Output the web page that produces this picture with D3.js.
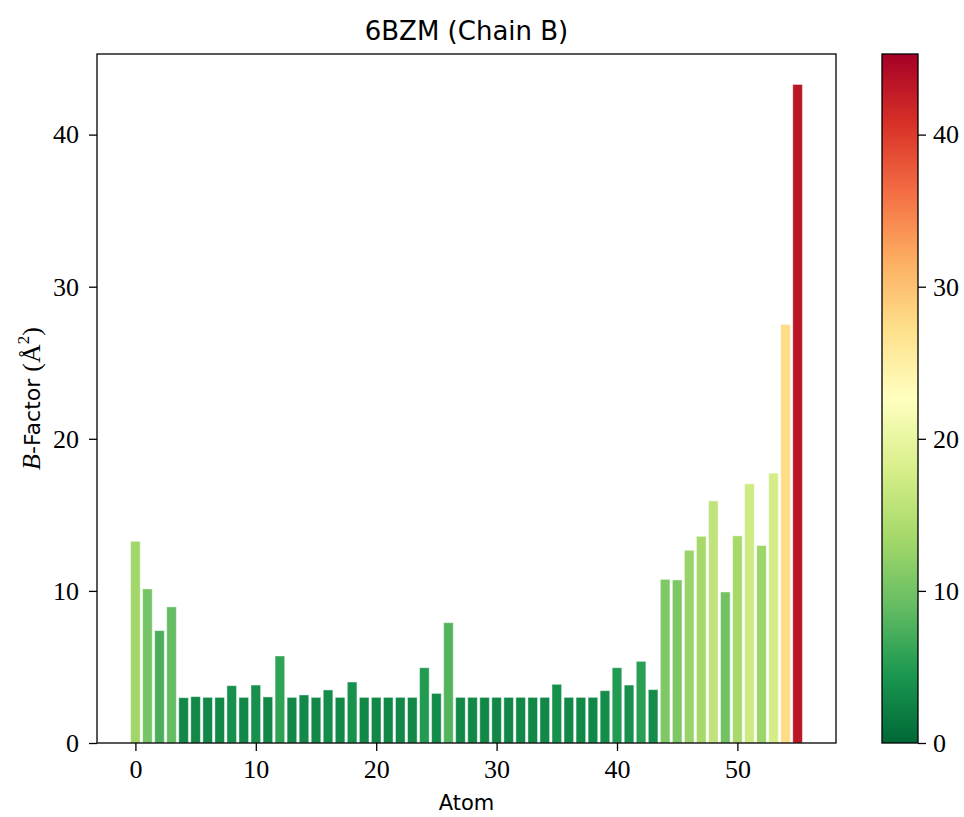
<!DOCTYPE html>
<html>
<head>
<meta charset="utf-8">
<script src="https://cdn.jsdelivr.net/npm/d3@7"></script>
<style>
  body { margin: 0; background: #fff; }
  .tick text { font-family: 'Liberation Serif', serif; font-size: 26px; }
</style>
</head>
<body>
<div id="app"></div>
<script>
const atoms = d3.range(56);
const bfactor = [
  13.26, 10.13, 7.39, 8.95, 2.98, 3.05, 3.0, 3.0, 3.77, 3.0,
  3.81, 3.03, 5.72, 3.0, 3.16, 3.0, 3.49, 3.0, 4.01, 3.0,
  3.0, 3.0, 3.0, 3.0, 4.95, 3.26, 7.91, 3.0, 3.0, 3.0,
  3.0, 3.0, 3.0, 3.0, 3.0, 3.86, 3.0, 3.0, 3.0, 3.44,
  4.95, 3.81, 5.37, 3.51, 10.76, 10.72, 12.67, 13.59, 15.92, 9.93,
  13.62, 17.04, 12.98, 17.74, 27.52, 43.3
];
const xTicks = [0, 10, 20, 30, 40, 50];
const yTicks = [0, 10, 20, 30, 40];
const title = '6BZM (Chain B)';

const width = 964;
const height = 817;
const plot = { left: 97, right: 836, top: 54, bottom: 743 };
const cbar = { left: 882, right: 918 };
const tickLen = 8;

const yMax = 45.3;

const svg = d3.select('#app').append('svg')
  .attr('width', width)
  .attr('height', height);

// matplotlib-style linear RdYlGn_r
const brewer = d3.schemeRdYlGn[11].slice().reverse();
const color = d3.scaleLinear()
  .domain(brewer.map((_, i) => i / (brewer.length - 1) * yMax))
  .range(brewer)
  .clamp(true);

const x = d3.scaleLinear()
  .domain([-0.4 - 55.8 * 0.05, 55.4 + 55.8 * 0.05])
  .range([plot.left, plot.right]);

const y = d3.scaleLinear()
  .domain([0, yMax])
  .range([plot.bottom, plot.top]);

const barW = x(0.8) - x(0);

svg.append('g')
  .selectAll('rect')
  .data(atoms)
  .join('rect')
  .attr('x', d => x(d - 0.4))
  .attr('y', d => y(bfactor[d]))
  .attr('width', barW)
  .attr('height', d => y(0) - y(bfactor[d]))
  .attr('fill', d => color(bfactor[d]))
  .attr('stroke', '#fff')
  .attr('stroke-opacity', 0.45)
  .attr('stroke-width', 1);

const xAxis = svg.append('g')
  .attr('transform', `translate(0,${plot.bottom})`)
  .call(d3.axisBottom(x).tickValues(xTicks).tickSize(tickLen).tickPadding(9));

const yAxis = svg.append('g')
  .attr('transform', `translate(${plot.left},0)`)
  .call(d3.axisLeft(y).tickValues(yTicks).tickSize(tickLen).tickPadding(10));

[xAxis, yAxis].forEach(a => {
  a.select('.domain').remove();
  a.selectAll('.tick line').attr('stroke', '#000').attr('stroke-width', 1.3);
});

svg.append('rect')
  .attr('x', plot.left)
  .attr('y', plot.top)
  .attr('width', plot.right - plot.left)
  .attr('height', plot.bottom - plot.top)
  .attr('fill', 'none')
  .attr('stroke', '#000')
  .attr('stroke-width', 1.3);

// colorbar
const grad = svg.append('defs').append('linearGradient')
  .attr('id', 'cb')
  .attr('x1', 0).attr('y1', 1).attr('x2', 0).attr('y2', 0);

grad.selectAll('stop')
  .data(brewer)
  .join('stop')
  .attr('offset', (_, i) => i / (brewer.length - 1))
  .attr('stop-color', d => d);

svg.append('rect')
  .attr('x', cbar.left)
  .attr('y', plot.top)
  .attr('width', cbar.right - cbar.left)
  .attr('height', plot.bottom - plot.top)
  .attr('fill', 'url(#cb)')
  .attr('stroke', '#000')
  .attr('stroke-width', 1.3);

const cAxis = svg.append('g')
  .attr('transform', `translate(${cbar.right},0)`)
  .call(d3.axisRight(y).tickValues(yTicks).tickSize(tickLen).tickPadding(7));
cAxis.select('.domain').remove();
cAxis.selectAll('.tick line').attr('stroke', '#000').attr('stroke-width', 1.3);

svg.append('text')
  .attr('x', (plot.left + plot.right) / 2)
  .attr('y', 40)
  .attr('text-anchor', 'middle')
  .style('font-family', 'DejaVu Sans, sans-serif')
  .style('font-size', '26px')
  .text(title);

svg.append('text')
  .attr('x', (plot.left + plot.right) / 2)
  .attr('y', 810)
  .attr('text-anchor', 'middle')
  .style('font-family', 'DejaVu Sans, sans-serif')
  .style('font-size', '21px')
  .text('Atom');

const yl = svg.append('text')
  .attr('transform', `translate(40,${(plot.top + plot.bottom) / 2}) rotate(-90)`)
  .attr('text-anchor', 'middle')
  .style('font-family', 'DejaVu Sans, sans-serif')
  .style('font-size', '22px');
yl.append('tspan').style('font-family', 'Liberation Serif, serif').style('font-style', 'italic').style('font-size', '26px').text('B');
yl.append('tspan').text('-Factor ');
yl.append('tspan').style('font-family', 'Liberation Serif, serif').style('font-size', '26px').text('(Å');
yl.append('tspan').style('font-family', 'Liberation Serif, serif').style('font-size', '17px').attr('dy', -11).text('2');
yl.append('tspan').style('font-family', 'Liberation Serif, serif').style('font-size', '26px').attr('dy', 11).text(')');
</script>
</body>
</html>
